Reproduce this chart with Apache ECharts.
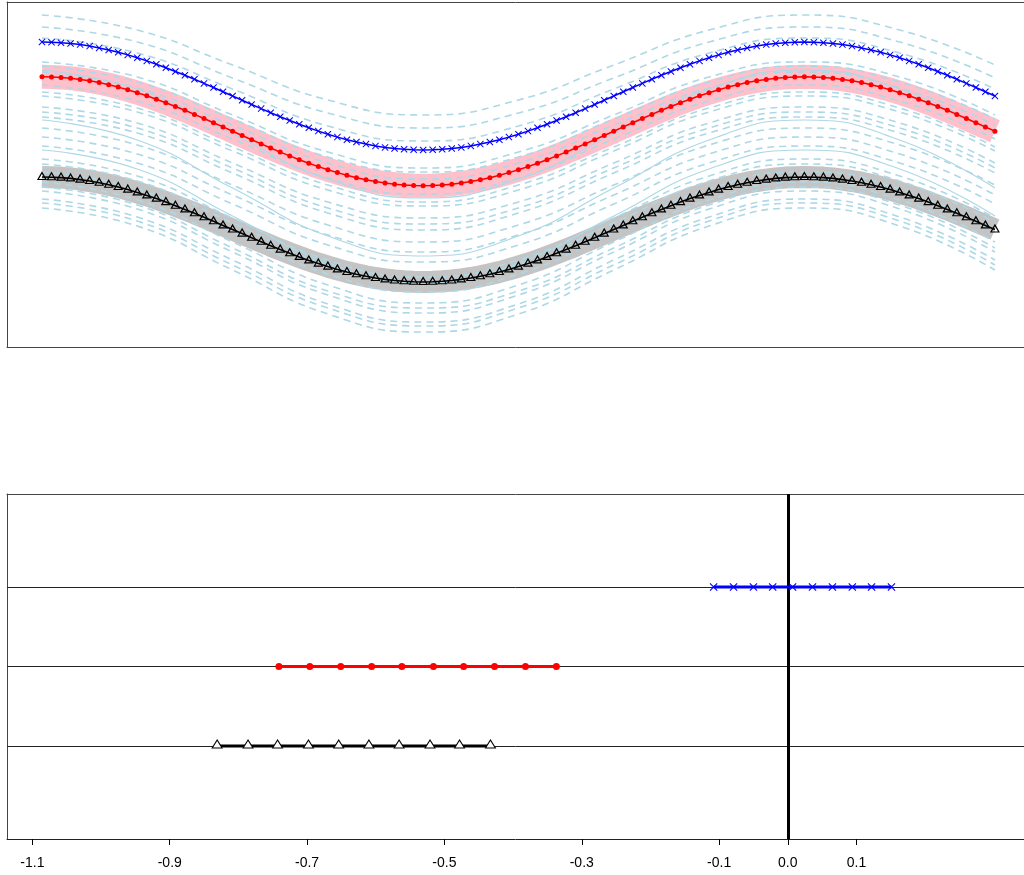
<!DOCTYPE html>
<html><head><meta charset="utf-8">
<script src="https://cdn.jsdelivr.net/npm/echarts@6/dist/echarts.min.js"></script>
<style>html,body{margin:0;padding:0;background:#fff}#c{width:1024px;height:875px}</style>
</head><body><div id="c"></div>
<script>
// ---- top panel: curves evaluated on an index grid 0..100 ----
const topIndex = Array.from({length: 101}, (_, i) => i);
const blueTop = [
3.050,3.048,3.043,3.035,3.024,3.009,2.991,2.970,2.947,2.921,2.892,2.861,2.827,2.792,2.755,2.717,2.677,2.636,2.595,2.552,2.510,
2.468,2.425,2.384,2.343,2.303,2.265,2.228,2.193,2.159,2.128,2.099,2.073,2.050,2.029,2.011,1.996,1.985,1.977,1.972,1.970,
1.972,1.977,1.985,1.996,2.011,2.029,2.050,2.073,2.099,2.128,2.159,2.193,2.228,2.265,2.303,2.343,2.384,2.425,2.468,2.510,
2.552,2.595,2.636,2.677,2.717,2.755,2.792,2.827,2.861,2.892,2.921,2.947,2.970,2.991,3.009,3.024,3.035,3.043,3.048,3.050,
3.048,3.043,3.035,3.024,3.009,2.991,2.970,2.947,2.921,2.892,2.861,2.827,2.792,2.755,2.717,2.677,2.636,2.595,2.552,2.510];
const redTop = [
2.703,2.701,2.696,2.688,2.676,2.662,2.644,2.623,2.599,2.572,2.543,2.512,2.478,2.443,2.405,2.367,2.326,2.285,2.243,2.201,2.158,
2.115,2.073,2.031,1.990,1.949,1.911,1.873,1.838,1.804,1.773,1.744,1.717,1.693,1.672,1.654,1.640,1.628,1.620,1.615,1.613,
1.615,1.620,1.628,1.640,1.654,1.672,1.693,1.717,1.744,1.773,1.804,1.838,1.873,1.911,1.949,1.990,2.031,2.073,2.115,2.158,
2.201,2.243,2.285,2.326,2.367,2.405,2.443,2.478,2.512,2.543,2.572,2.599,2.623,2.644,2.662,2.676,2.688,2.696,2.701,2.703,
2.701,2.696,2.688,2.676,2.662,2.644,2.623,2.599,2.572,2.543,2.512,2.478,2.443,2.405,2.367,2.326,2.285,2.243,2.201,2.158];
const blackTop = [
1.700,1.698,1.694,1.686,1.674,1.660,1.643,1.623,1.600,1.574,1.546,1.516,1.484,1.449,1.413,1.376,1.337,1.298,1.257,1.216,1.175,
1.134,1.093,1.053,1.013,0.974,0.937,0.901,0.866,0.834,0.804,0.776,0.750,0.727,0.707,0.690,0.676,0.665,0.657,0.652,0.650,
0.652,0.657,0.665,0.676,0.690,0.707,0.727,0.750,0.776,0.804,0.834,0.866,0.901,0.937,0.974,1.013,1.053,1.093,1.134,1.175,
1.216,1.257,1.298,1.337,1.376,1.413,1.449,1.484,1.516,1.546,1.574,1.600,1.623,1.643,1.660,1.674,1.686,1.694,1.698,1.700,
1.698,1.694,1.686,1.674,1.660,1.643,1.623,1.600,1.574,1.546,1.516,1.484,1.449,1.413,1.376,1.337,1.298,1.257,1.216,1.175];

// background sample curves (sampled every 10 index units)
const bgX = [0,10,20,30,40,50,60,70,80,90,100];
const bgDashedCurves = [
[3.32,3.17,2.82,2.47,2.32,2.47,2.82,3.17,3.32,3.17,2.82],
[3.20,3.05,2.69,2.34,2.19,2.34,2.69,3.05,3.20,3.05,2.69],
[3.09,2.94,2.58,2.21,2.06,2.21,2.58,2.94,3.09,2.94,2.58],
[2.85,2.70,2.32,1.95,1.79,1.95,2.32,2.70,2.85,2.70,2.32],
[2.81,2.65,2.28,1.90,1.75,1.90,2.28,2.65,2.81,2.65,2.28],
[2.75,2.59,2.22,1.84,1.68,1.84,2.22,2.59,2.75,2.59,2.22],
[2.62,2.46,2.08,1.69,1.53,1.69,2.08,2.46,2.62,2.46,2.08],
[2.55,2.39,2.00,1.62,1.45,1.62,2.00,2.39,2.55,2.39,2.00],
[2.51,2.35,1.96,1.57,1.41,1.57,1.96,2.35,2.51,2.35,1.96],
[2.40,2.24,1.84,1.45,1.29,1.45,1.84,2.24,2.40,2.24,1.84],
[2.35,2.19,1.79,1.39,1.23,1.39,1.79,2.19,2.35,2.19,1.79],
[2.30,2.14,1.74,1.34,1.17,1.34,1.74,2.14,2.30,2.14,1.74],
[2.19,2.02,1.62,1.22,1.05,1.22,1.62,2.02,2.19,2.02,1.62],
[2.10,1.93,1.52,1.12,0.95,1.12,1.52,1.93,2.10,1.93,1.52],
[2.01,1.84,1.43,1.02,0.85,1.02,1.43,1.84,2.01,1.84,1.43],
[1.88,1.71,1.29,0.87,0.70,0.87,1.29,1.71,1.88,1.71,1.29],
[1.83,1.66,1.24,0.82,0.64,0.82,1.24,1.66,1.83,1.66,1.24],
[1.75,1.58,1.15,0.73,0.55,0.73,1.15,1.58,1.75,1.58,1.15],
[1.65,1.47,1.05,0.62,0.44,0.62,1.05,1.47,1.65,1.47,1.05],
[1.60,1.42,0.99,0.56,0.39,0.56,0.99,1.42,1.60,1.42,0.99],
[1.56,1.38,0.95,0.52,0.34,0.52,0.95,1.38,1.56,1.38,0.95],
[1.48,1.30,0.87,0.43,0.25,0.43,0.87,1.30,1.48,1.30,0.87],
[1.44,1.26,0.82,0.39,0.21,0.39,0.82,1.26,1.44,1.26,0.82],
[1.39,1.21,0.77,0.33,0.15,0.33,0.77,1.21,1.39,1.21,0.77]];
const bgSolidCurves = [
[2.77,2.58,2.13,1.68,1.49,1.68,2.13,2.58,2.77,2.58,2.13],
[2.27,2.07,1.59,1.11,0.91,1.11,1.59,2.07,2.27,2.07,1.59],
[1.97,1.78,1.31,0.84,0.65,0.84,1.31,1.78,1.97,1.78,1.31]];

// ---- bottom panel: intervals ----
const intervalLevels = [3, 2, 1];          // blue, red, black rows
const blueInterval  = [-0.108,-0.079,-0.050,-0.022,0.007,0.036,0.065,0.094,0.122,0.151];
const redInterval   = [-0.741,-0.696,-0.651,-0.606,-0.562,-0.516,-0.472,-0.427,-0.382,-0.337];
const blackInterval = [-0.831,-0.786,-0.743,-0.698,-0.654,-0.610,-0.566,-0.521,-0.478,-0.433];
const refX = 0;
const xTickValues = [-1.1,-0.9,-0.7,-0.5,-0.3,-0.1,0.0,0.1];

const LB = '#ADD8E6';
const BOX = '#444';
const crossPath = 'path://M0,1L1,0L5,4L9,0L10,1L6,5L10,9L9,10L5,6L1,10L0,9L4,5Z';
const pairs = (xs, ys) => xs.map((x, i) => [x, ys[i]]);
const rowPairs = (xs, level) => xs.map(x => [x, level]);

const series = [];
// bands
series.push({type:'line', xAxisIndex:0, yAxisIndex:0, data: pairs(topIndex, redTop), showSymbol:false,
  lineStyle:{color:'#FFC0CB', width:24}, z:1, silent:true});
series.push({type:'line', xAxisIndex:0, yAxisIndex:0, data: pairs(topIndex, blackTop), showSymbol:false,
  lineStyle:{color:'#C4C4C4', width:22}, z:1, silent:true});
// background curves
bgDashedCurves.forEach(c => series.push({type:'line', xAxisIndex:0, yAxisIndex:0, data: pairs(bgX, c),
  smooth:true, showSymbol:false, lineStyle:{color:LB, width:1.6, type:[7,5]}, z:2, silent:true}));
bgSolidCurves.forEach(c => series.push({type:'line', xAxisIndex:0, yAxisIndex:0, data: pairs(bgX, c),
  smooth:true, showSymbol:false, lineStyle:{color:LB, width:1.2}, z:2, silent:true}));
// main curves
series.push({type:'line', xAxisIndex:0, yAxisIndex:0, data: pairs(topIndex, blueTop),
  symbol: crossPath, symbolSize:7, itemStyle:{color:'#0000FF'}, lineStyle:{color:'#0000FF', width:1.5}, z:5});
series.push({type:'line', xAxisIndex:0, yAxisIndex:0, data: pairs(topIndex, redTop),
  symbol:'circle', symbolSize:5, itemStyle:{color:'#FF0000'}, lineStyle:{color:'#FF0000', width:1.5}, z:5});
series.push({type:'line', xAxisIndex:0, yAxisIndex:0, data: pairs(topIndex, blackTop),
  symbol:'triangle', symbolSize:[8,7], symbolOffset:[0,-1],
  itemStyle:{color:'rgba(0,0,0,0)', borderColor:'#000', borderWidth:1.2},
  lineStyle:{color:'#000', width:1.6}, z:5});

// bottom reference lines
series.push({type:'line', xAxisIndex:2, yAxisIndex:1, data:[], silent:true,
  markLine:{silent:true, symbol:['none','none'], label:{show:false}, animation:false,
    data: [
      ...intervalLevels.map(l => ({yAxis:l, lineStyle:{color:'#222', width:1, type:'solid'}})),
      {xAxis: refX, lineStyle:{color:'#000', width:3, type:'solid'}}
    ]}});
series.push({type:'line', xAxisIndex:2, yAxisIndex:1, data: rowPairs(blueInterval, intervalLevels[0]),
  symbol: crossPath, symbolSize:8, itemStyle:{color:'#0000FF'}, lineStyle:{color:'#0000FF', width:3}, z:5});
series.push({type:'line', xAxisIndex:2, yAxisIndex:1, data: rowPairs(redInterval, intervalLevels[1]),
  symbol:'circle', symbolSize:7, itemStyle:{color:'#FF0000'}, lineStyle:{color:'#FF0000', width:3}, z:5});
series.push({type:'line', xAxisIndex:2, yAxisIndex:1, data: rowPairs(blackInterval, intervalLevels[2]),
  symbol:'triangle', symbolSize:[10,8], symbolOffset:[0,-2],
  itemStyle:{color:'#fff', borderColor:'#000', borderWidth:1}, lineStyle:{color:'#000', width:3}, z:5});

const frameAxis = (grid, pos, min, max) => ({gridIndex:grid, type:'value', position:pos, min:min, max:max,
  axisLine:{show:true, onZero:false, lineStyle:{color:BOX, width:1}}, axisTick:{show:false},
  axisLabel:{show:false}, splitLine:{show:false}});

const TOP_MIN = -3.67, TOP_MAX = 103.05;
const BOT_MIN = -1.137, BOT_MAX = 0.344;

const chart = echarts.init(document.getElementById('c'), null, {renderer:'canvas'});
chart.setOption({
  animation:false,
  backgroundColor:'#fff',
  grid:[
    {left:7, top:2, right:0, height:345, show:false, containLabel:false},
    {left:7, top:494, right:0, height:345, show:false, containLabel:false}
  ],
  xAxis:[
    frameAxis(0, 'bottom', TOP_MIN, TOP_MAX),
    frameAxis(0, 'top', TOP_MIN, TOP_MAX),
    {gridIndex:1, type:'value', position:'bottom', min:BOT_MIN, max:BOT_MAX,
      axisLine:{show:true, onZero:false, lineStyle:{color:'#222', width:1}},
      axisTick:{show:true, length:6, lineStyle:{color:'#000', width:1}, customValues: xTickValues},
      axisLabel:{show:true, customValues: xTickValues, margin:17, color:'#000', fontSize:14,
        fontFamily:'Liberation Sans, Arial, sans-serif', formatter: v => Number(v).toFixed(1)},
      splitLine:{show:false}},
    frameAxis(1, 'top', BOT_MIN, BOT_MAX)
  ],
  yAxis:[
    frameAxis(0, 'left', 0, 3.45),
    frameAxis(1, 'left', -0.17, 4.17)
  ],
  series: series
});
</script>
</body></html>
